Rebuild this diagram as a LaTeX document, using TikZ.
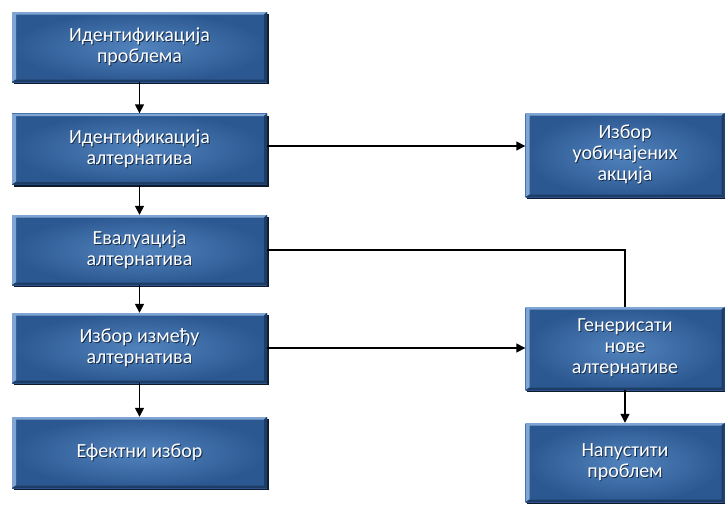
\documentclass[tikz,border=0pt]{standalone}
\usepackage{fontspec}
\setmainfont{Carlito}
\usetikzlibrary{arrows.meta,shadows}

\definecolor{boxmid}{HTML}{5283BD}
\definecolor{boxedge}{HTML}{2C5891}
\definecolor{bevellight}{HTML}{7EA5D3}
\definecolor{beveldark}{HTML}{1E3D66}
\definecolor{boxshadow}{HTML}{0E1A2C}
\definecolor{textshade}{HTML}{152C4A}

% one line of box text with a soft dark offset copy behind it
\newcommand{\tl}[1]{\makebox[0pt][l]{\kern0.9pt\raisebox{-0.9pt}{\color{textshade}#1}}#1}

\tikzset{
  x=1pt, y=-1pt,
  stepbox/.style={
    rectangle, inner sep=2pt, align=center, text=white,
    font=\fontsize{20}{21}\selectfont,
    inner color=boxmid, outer color=boxedge,
    drop shadow={shadow xshift=1.6pt, shadow yshift=-2.2pt, fill=boxshadow, opacity=1},
    path picture={
      \fill[bevellight]
        (path picture bounding box.north west) -- (path picture bounding box.north east)
        -- ([xshift=-3pt,yshift=-2.5pt]path picture bounding box.north east)
        -- ([xshift=4pt,yshift=-2.5pt]path picture bounding box.north west)
        -- ([xshift=4pt,yshift=2.5pt]path picture bounding box.south west)
        -- (path picture bounding box.south west) -- cycle;
      \fill[beveldark]
        (path picture bounding box.south west) -- (path picture bounding box.south east)
        -- (path picture bounding box.north east)
        -- ([xshift=-3pt,yshift=-2.5pt]path picture bounding box.north east)
        -- ([xshift=-3pt,yshift=2.5pt]path picture bounding box.south east)
        -- ([xshift=4pt,yshift=2.5pt]path picture bounding box.south west) -- cycle;
    }
  },
  leftbox/.style={stepbox, minimum width=255pt},
  rightbox/.style={stepbox, minimum width=199pt},
  link/.style={line width=1.4pt, black},
  arrowlink/.style={link, -{Triangle[length=9pt,width=9pt]}}
}

\begin{document}
\begin{tikzpicture}
\useasboundingbox (0,0) rectangle (725,504);

% main column
\node[leftbox, minimum height=70pt] (prob) at (139.5,47) {\tl{Идентификација}\\\tl{проблема}};
\node[leftbox, minimum height=71pt] (ialt) at (139.5,149) {\tl{Идентификација}\\\tl{алтернатива}};
\node[leftbox, minimum height=70pt] (eval) at (139.5,250) {\tl{Евалуација}\\\tl{алтернатива}};
\node[leftbox, minimum height=70pt] (izb)  at (139.5,348) {\tl{Избор између}\\\tl{алтернатива}};
\node[leftbox, minimum height=71pt] (ef)   at (139.5,452.5) {\tl{Ефектни избор}};

% side column
\node[rightbox, minimum height=84pt] (obic) at (625,155) {\tl{Избор}\\\tl{уобичајених}\\\tl{акција}};
\node[rightbox, minimum height=83pt] (gen)  at (625,348.5) {\tl{Генерисати}\\\tl{нове}\\\tl{алтернативе}};
\node[rightbox, minimum height=79pt] (nap)  at (625,462.5) {\tl{Напустити}\\\tl{проблем}};

% connectors
\draw[arrowlink] (prob) -- (ialt);
\draw[arrowlink] (ialt) -- (eval);
\draw[arrowlink] (eval) -- (izb);
\draw[arrowlink] (izb) -- (ef);
\draw[arrowlink] ([yshift=3pt]ialt.east) -- ([yshift=3pt]ialt.east -| obic.west);
\draw[link] (eval.east) -| (gen.north);
\draw[arrowlink] (izb.east) -- (izb.east -| gen.west);
\draw[arrowlink] (gen) -- (nap);
\end{tikzpicture}
\end{document}
